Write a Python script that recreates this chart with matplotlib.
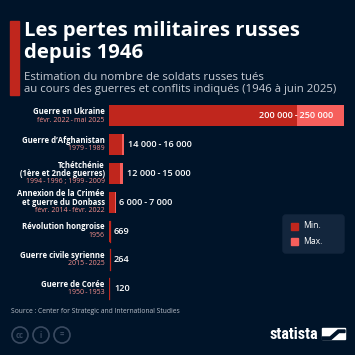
import matplotlib
matplotlib.use("Agg")
import matplotlib.pyplot as plt
from matplotlib.patches import Rectangle, Circle, FancyBboxPatch, Polygon

# données (CSIS, estimations)
conflits = ["Guerre en Ukraine", "Guerre d’Afghanistan", "Tchétchénie\n(1ère et 2nde guerres)",
            "Annexion de la Crimée\net guerre du Donbass", "Révolution hongroise",
            "Guerre civile syrienne", "Guerre de Corée"]
periodes = ["févr. 2022\u2009-\u2009mai 2025", "1979\u2009-\u20091989",
            "1994\u2009-\u20091996 ; 1999\u2009-\u20092009",
            "févr. 2014\u2009-\u2009févr. 2022", "1956", "2015\u2009-\u20092025",
            "1950\u2009-\u20091953"]
pertes_min = [200000, 14000, 12000, 6000, 669, 264, 120]
pertes_max = [250000, 16000, 15000, 7000, 669, 264, 120]

BG = "#001429"
RED = "#c0261d"
PINK = "#f65f5c"
W, H = 355, 355

plt.rcParams["font.family"] = ["Open Sans", "DejaVu Sans"]
fig = plt.figure(figsize=(W / 100, H / 100), dpi=100)
fig.patch.set_facecolor(BG)


def fx(px):
    return px / W


def fy(px):
    return 1 - px / H


def nombre(v):
    return f"{v:,}".replace(",", " ")


# titre
fig.patches.append(Rectangle((fx(10), fy(95)), fx(9) - fx(0), fy(21) - fy(95),
                             transform=fig.transFigure, color="#c0261d"))
fig.text(fx(24), fy(36), "Les pertes militaires russes", color="white",
         fontsize=14.6, fontweight="bold", va="baseline")
fig.text(fx(24), fy(58), "depuis 1946", color="white",
         fontsize=14.6, fontweight="bold", va="baseline")
fig.text(fx(24), fy(80), "Estimation du nombre de soldats russes tués",
         color="#c8ccd4", fontsize=8.2, va="baseline")
fig.text(fx(24), fy(92), "au cours des guerres et conflits indiqués (1946 à juin 2025)",
         color="#c8ccd4", fontsize=8.2, va="baseline")

# barres
top, bot = 101.6, 302.9
ax = fig.add_axes([fx(109), fy(bot), fx(344) - fx(109), fy(top) - fy(bot)])
ax.set_facecolor("none")
ax.set_xlim(0, 250000)
ax.set_ylim(len(conflits) - 0.5, -0.5)
ax.axis("off")
y = list(range(len(conflits)))
ax.barh(y, pertes_max, height=0.73, color=PINK, edgecolor="none")
ax.barh(y, pertes_min, height=0.73, color=RED, edgecolor="none")

for i in y:
    # traits fins pour les très petites valeurs
    if pertes_max[i] < 1000:
        ax.plot([pertes_max[i] + 300] * 2, [i - 0.365, i + 0.365], color=RED, lw=0.9)
    if pertes_min[i] == pertes_max[i]:
        lab = nombre(pertes_min[i])
    else:
        lab = nombre(pertes_min[i]) + "\u2009-\u2009" + nombre(pertes_max[i])
    if i == 0:
        ax.annotate(lab, (pertes_max[i], i), xytext=(-8, 0), textcoords="offset points",
                    ha="right", va="center", color="white", fontsize=6.6, fontweight="semibold")
    else:
        ax.annotate(lab, (max(pertes_max[i], 1500), i), xytext=(2.5, 0),
                    textcoords="offset points", ha="left", va="center",
                    color="white", fontsize=6.6, fontweight="semibold")

    # libellés à gauche
    lignes = conflits[i].split("\n")
    n = len(lignes) + 1
    pas = 0.29
    y0 = i - (n - 1) * pas / 2
    for k, t in enumerate(lignes):
        ax.annotate(t, (0, y0 + k * pas), xytext=(-3, 0), textcoords="offset points",
                    ha="right", va="center", color="white", fontsize=5.6, fontweight="bold",
                    annotation_clip=False)
    ax.annotate(periodes[i], (0, y0 + (n - 1) * pas), xytext=(-3, 0), textcoords="offset points",
                ha="right", va="center", color="#f5908d", fontsize=5.0,
                annotation_clip=False)

# légende
fig.patches.append(FancyBboxPatch((fx(283), fy(253)), fx(344) - fx(283), fy(215) - fy(253),
                                  boxstyle="round,pad=0,rounding_size=0.008",
                                  transform=fig.transFigure, color="#13263d"))
for yy, c, t in [(226, RED, "Min."), (241, PINK, "Max.")]:
    fig.patches.append(Rectangle((fx(291), fy(yy + 3.5)), fx(7), fy(0) - fy(7),
                                 transform=fig.transFigure, color=c))
    fig.text(fx(303), fy(yy), t, color="white", fontsize=6.2, va="center")

# source
fig.text(fx(11), fy(313), "Source : Center for Strategic and International Studies",
         color="#b8bec8", fontsize=4.9, va="baseline")

# icônes cc
for cx, t in [(20, "cc"), (41, "i"), (62, "=")]:
    fig.patches.append(Circle((fx(cx), fy(335)), fx(8), transform=fig.transFigure,
                              fill=False, ec="#3a4a60", lw=1.2))
    fig.text(fx(cx), fy(335), t, color="#3a4a60", fontsize=5.5, fontweight="bold",
             ha="center", va="center")

# logo statista
fig.text(fx(318), fy(339), "statista", color="white", fontsize=11.5, fontweight="bold",
         ha="right", va="baseline", family=["Roboto Condensed", "Roboto", "DejaVu Sans"])
fig.patches.append(Polygon([(fx(322), fy(339)), (fx(345), fy(339)), (fx(345), fy(328)),
                            (fx(322), fy(328))], closed=True, transform=fig.transFigure,
                           color="white"))
fig.patches.append(Polygon([(fx(322), fy(337)), (fx(330), fy(337)), (fx(338), fy(330)),
                            (fx(345), fy(330)), (fx(345), fy(332.5)), (fx(339), fy(332.5)),
                            (fx(331), fy(339.5)), (fx(322), fy(339.5))],
                           closed=True, transform=fig.transFigure, color=BG))

fig.savefig("out.png", dpi=100, facecolor=BG)
